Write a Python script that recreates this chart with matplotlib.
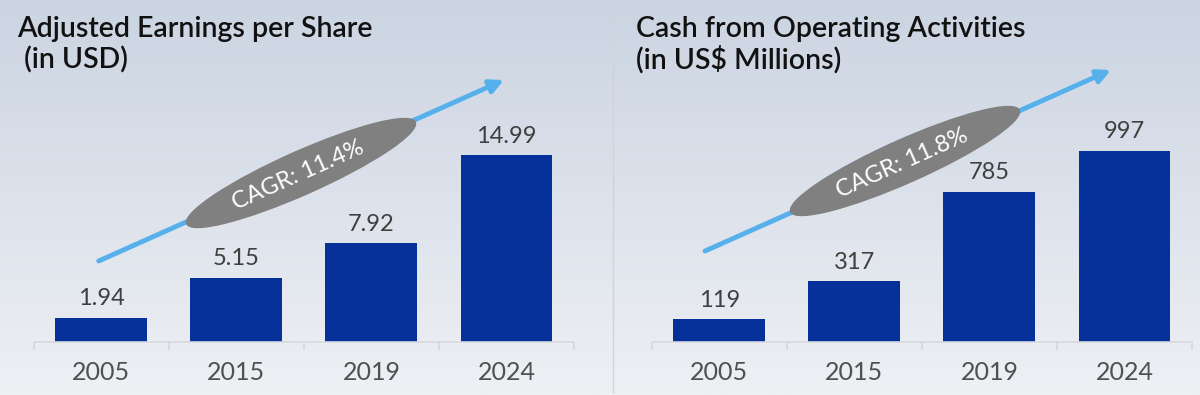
import numpy as np
import matplotlib.pyplot as plt
from matplotlib.patches import Ellipse

years = ["2005", "2015", "2019", "2024"]
eps = [1.94, 5.15, 7.92, 14.99]
cash = [119, 317, 785, 997]
eps_labels = ["1.94", "5.15", "7.92", "14.99"]
cash_labels = ["119", "317", "785", "997"]
titles = [["Adjusted Earnings per Share", " (in USD)"],
          ["Cash from Operating Activities", "(in US$ Millions)"]]
cagr = ["CAGR: 11.4%", "CAGR: 11.8%"]

W, H = 1200, 395
bar_col = "#06309a"
arrow_col = "#55b0ec"
font = "Lato"

fig = plt.figure(figsize=(12, 3.95), dpi=100)

# background gradient
bg = fig.add_axes([0, 0, 1, 1], zorder=0)
top = np.array([203, 212, 226]) / 255
bot = np.array([238, 240, 244]) / 255
t = np.linspace(0, 1, 256)[:, None, None]
grad = top[None, None, :] * (1 - t) + bot[None, None, :] * t
bg.imshow(grad, aspect="auto", extent=[0, 1, 0, 1])
bg.axis("off")

panels = [(eps, eps_labels, 19.4, 33.7), (cash, cash_labels, 1263, 651.7)]
for vals, labs, ytop, x0 in panels:
    ax = fig.add_axes([x0 / W, 53 / H, 540.3 / W, 242 / H], zorder=2)
    ax.patch.set_alpha(0)
    x = np.arange(len(years))
    ax.bar(x, vals, width=0.68, color=bar_col)
    ax.set_xlim(-0.5, 3.5)
    ax.set_ylim(0, ytop)
    for s in ["top", "left", "right"]:
        ax.spines[s].set_visible(False)
    ax.spines["bottom"].set_color("#d5d9e0")
    ax.spines["bottom"].set_linewidth(1.2)
    ax.set_yticks([])
    ax.set_xticks(x)
    ax.set_xticklabels(years, fontsize=18, color="#505050", family=font)
    ax.set_xticks(np.arange(-0.5, 4, 1), minor=True)
    ax.tick_params(axis="x", which="major", length=0, pad=14)
    ax.tick_params(axis="x", which="minor", length=6, width=1.2, color="#d5d9e0")
    for i, (v, l) in enumerate(zip(vals, labs)):
        ax.annotate(l, (i, v), xytext=(0, 9), textcoords="offset points",
                    ha="center", va="baseline", fontsize=17, color="#3f3f3f",
                    family=font)

# overlay in pixel coordinates for titles, arrows, ellipses
ov = fig.add_axes([0, 0, 1, 1], zorder=5)
ov.set_xlim(0, W)
ov.set_ylim(H, 0)
ov.axis("off")
ov.patch.set_alpha(0)

ov.plot([612.6, 612.6], [11, 392], color="#cfd3da", lw=1)

title_x = [17, 636]
for tx, (l1, l2) in zip(title_x, titles):
    ov.text(tx, 37, l1, fontsize=20.5, family=font, weight="semibold", color="#111111", va="baseline")
    ov.text(tx, 69, l2, fontsize=20.5, family=font, weight="semibold", color="#111111", va="baseline")

arrows = [((98.7, 261), (504, 80)), ((705, 251), (1111, 70))]
centers = [(301, 173), (905, 161)]
for (start, end), c, lab in zip(arrows, centers, cagr):
    ov.annotate("", xy=end, xytext=start,
                arrowprops=dict(arrowstyle="-|>", color=arrow_col, lw=3.5,
                                mutation_scale=20, shrinkA=0, shrinkB=0))
    ov.add_patch(Ellipse(c, width=250, height=43, angle=-24, color="#808080", zorder=3))
    ov.text(c[0] - 3, c[1] + 2, lab, rotation=24, rotation_mode="anchor", ha="center",
            va="center", fontsize=17, color="white", family=font, zorder=4)

fig.savefig("out.png", dpi=100)
